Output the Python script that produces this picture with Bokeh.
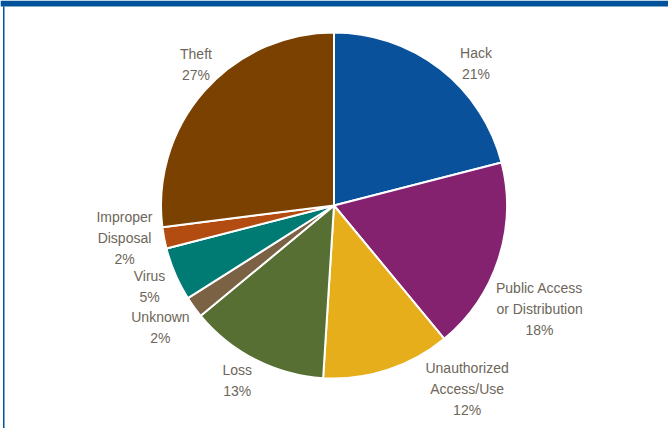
import math
from bokeh.plotting import figure
from bokeh.models import Range1d, ColumnDataSource
from bokeh.core.properties import value
from bokeh.embed import file_html
from bokeh.resources import INLINE

# ---- data ----
categories = ["Hack", "Public Access\nor Distribution", "Unauthorized\nAccess/Use", "Loss",
              "Unknown", "Virus", "Improper\nDisposal", "Theft"]
percents = [21, 18, 12, 13, 2, 5, 2, 27]
colors = ["#0a519c", "#84226f", "#e7ae1b", "#586f33", "#7b6245", "#007b74", "#b34c10", "#7b4100"]

# ---- layout (label placement, polar around pie centre) ----
label_angle_deg = [45, -26.8, -54.1, -119, -144.8, -156.4, -171.2, 134.4]
label_radius = [200.8, 230.3, 227, 199.6, 212.4, 201.3, 212, 197.3]

W, H = 668, 428
cx, cy, R = 333.5, H - 205, 173
line_h = 21
font = "Liberation Sans"
fsize = "14px"
txt_color = "#6d665a"

p = figure(width=W, height=H, x_range=Range1d(0, W), y_range=Range1d(0, H),
           output_backend="svg", toolbar_location=None, min_border=0)
p.axis.visible = False
p.grid.visible = False
p.outline_line_color = None
p.background_fill_color = "white"
p.border_fill_color = "white"

# frame: top band and left rule
p.quad(left=[0], right=[W], bottom=[H - 6], top=[H], fill_color="#00529b", line_color=None)
p.quad(left=[2.5], right=[4], bottom=[0], top=[H - 6], fill_color="#00529b", line_color=None)

# wedges
starts, ends, cum = [], [], 0
for v in percents:
    starts.append(math.radians(90 - cum * 3.6))
    cum += v
    ends.append(math.radians(90 - cum * 3.6))
src = ColumnDataSource(dict(start=starts, end=ends, color=colors, x=[cx] * len(percents), y=[cy] * len(percents)))
p.wedge(x="x", y="y", radius=R, start_angle="start", end_angle="end", direction="clock",
        fill_color="color", line_color="white", line_width=2, source=src)

# labels
lx, ly, lt = [], [], []
for cat, pct, a, r in zip(categories, percents, label_angle_deg, label_radius):
    lines = cat.split("\n") + [f"{pct}%"]
    bx = cx + r * math.cos(math.radians(a))
    by = cy + r * math.sin(math.radians(a))
    n = len(lines)
    for i, t in enumerate(lines):
        lx.append(bx)
        ly.append(by + ((n - 1) / 2 - i) * line_h)
        lt.append(t)
p.text(x=lx, y=ly, text=lt, text_align="center", text_baseline="middle",
       text_font=value(font), text_font_size=fsize, text_color=txt_color)

open("out.html", "w").write(file_html(p, INLINE))
